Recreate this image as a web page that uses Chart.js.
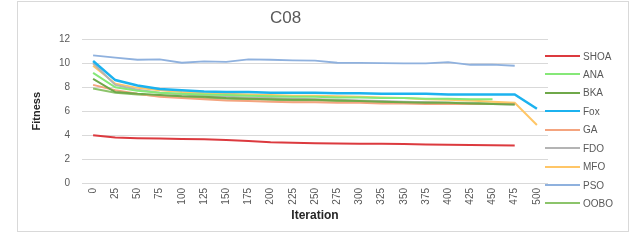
<!DOCTYPE html>
<html>
<head>
<meta charset="utf-8">
<script src="https://cdn.jsdelivr.net/npm/chart.js@4/dist/chart.umd.min.js"></script>
<style>
  body { margin: 0; background: #fff; font-family: "Liberation Sans", Arial, sans-serif; }
  #box { position: absolute; left: 17px; top: 1px; width: 610px; height: 229px; border: 1px solid #d9d9d9; }
  #legend { position: absolute; left: 0; top: 0; }
  .item { position: absolute; height: 12px; font-size: 10px; line-height: 12px; color: #595959; white-space: nowrap; }
  .item span { display: inline-block; width: 35px; height: 2px; vertical-align: middle; margin-right: 3px; position: relative; top: -1px; }
</style>
</head>
<body>
<div id="box"><canvas id="plot" width="610" height="229"></canvas></div>
<div id="legend"></div>
<script>
const iterations = ["0","25","50","75","100","125","150","175","200","225","250","275","300","325","350","375","400","425","450","475","500"];
const seriesNames = ["SHOA","ANA","BKA","Fox","GA","FDO","MFO","PSO","OOBO"];
const seriesColors = ["#dc3a3f","#86e878","#6fa84a","#1cb2ef","#f4a47f","#b4b4b4","#ffc667","#8fb1de","#8cc46b"];
const lineWidths = [2, 2, 2, 2.5, 2, 2, 2, 1.8, 2];

const shoa = [4.0, 3.8, 3.74, 3.72, 3.68, 3.66, 3.6, 3.5, 3.4, 3.37, 3.33, 3.3, 3.28, 3.27, 3.25, 3.22, 3.2, 3.18, 3.15, 3.14];
const ana  = [9.2, 8.0, 7.7, 7.55, 7.45, 7.4, 7.35, 7.3, 7.25, 7.2, 7.2, 7.15, 7.15, 7.1, 7.1, 7.05, 7.05, 7.0, 7.0];
const bka  = [8.7, 7.6, 7.45, 7.35, 7.25, 7.2, 7.1, 7.05, 7.0, 6.95, 6.95, 6.9, 6.85, 6.8, 6.75, 6.7, 6.7, 6.65, 6.6, 6.55];
const fox  = [10.2, 8.6, 8.15, 7.85, 7.75, 7.65, 7.6, 7.6, 7.55, 7.55, 7.55, 7.5, 7.5, 7.45, 7.45, 7.45, 7.4, 7.4, 7.4, 7.4, 6.2];
const ga   = [8.2, 7.75, 7.45, 7.2, 7.1, 7.0, 6.9, 6.85, 6.8, 6.75, 6.75, 6.7, 6.7, 6.65, 6.65, 6.6, 6.6, 6.6, 6.6, 6.6];
const fdo  = [10.0, 8.2, 7.8, 7.55, 7.4, 7.3, 7.2, 7.15, 7.1, 7.05, 7.0, 6.95, 6.9, 6.85, 6.8, 6.75, 6.7, 6.65, 6.6, 6.55];
const mfo  = [9.8, 8.3, 7.95, 7.75, 7.6, 7.5, 7.45, 7.4, 7.35, 7.3, 7.3, 7.25, 7.2, 7.15, 7.1, 7.0, 6.95, 6.9, 6.8, 6.7, 4.85];
const pso  = [10.67, 10.47, 10.3, 10.33, 10.05, 10.17, 10.12, 10.33, 10.3, 10.25, 10.22, 10.05, 10.03, 10.02, 10.0, 10.0, 10.1, 9.88, 9.9, 9.8];
const oobo = [7.9, 7.55, 7.4, 7.3, 7.2, 7.1, 7.05, 7.0, 6.95, 6.9, 6.9, 6.85, 6.85, 6.8, 6.75, 6.75, 6.7, 6.7, 6.65, 6.6];
const yTicks = [0, 2, 4, 6, 8, 10, 12];

const allSeries = [shoa, ana, bka, fox, ga, fdo, mfo, pso, oobo];

const datasets = seriesNames.map((name, i) => ({
  label: name,
  data: allSeries[i],
  borderColor: seriesColors[i],
  backgroundColor: seriesColors[i],
  borderWidth: lineWidths[i],
  pointRadius: 0,
  tension: 0,
  fill: false
}));

const textColor = "#595959";

new Chart(document.getElementById("plot"), {
  type: "line",
  data: { labels: iterations, datasets: datasets },
  options: {
    responsive: false,
    animation: false,
    layout: { padding: { left: 5, right: 80, top: 3, bottom: 2 } },
    plugins: {
      legend: { display: false },
      tooltip: { enabled: false },
      title: {
        display: true,
        text: "C08",
        color: textColor,
        font: { family: "Liberation Sans", size: 17, weight: "normal" },
        padding: { top: 3, bottom: 11 }
      }
    },
    scales: {
      x: {
        offset: true,
        afterFit: axis => { axis.height = 46; },
        grid: { display: false, drawTicks: false },
        border: { display: false },
        ticks: {
          color: textColor,
          font: { family: "Liberation Sans", size: 10 },
          maxRotation: 90,
          minRotation: 90,
          padding: 5,
          autoSkip: false
        },
        title: {
          display: true,
          text: "Iteration",
          color: "#262626",
          font: { family: "Liberation Sans", size: 12, weight: "bold" },
          padding: { top: 0, bottom: 6 }
        }
      },
      y: {
        min: 0,
        max: 12,
        afterBuildTicks: axis => { axis.ticks = yTicks.map(v => ({ value: v })); },
        afterFit: axis => { axis.width = 59; },
        grid: { color: "#d9d9d9", drawTicks: false },
        border: { display: false },
        ticks: {
          color: textColor,
          font: { family: "Liberation Sans", size: 10 },
          padding: 12
        },
        title: {
          display: true,
          text: "Fitness",
          color: "#262626",
          font: { family: "Liberation Sans", size: 11, weight: "bold" },
          padding: { top: 7, bottom: 4 }
        }
      }
    }
  }
});

// legend on the right, same order as the datasets
const legend = document.getElementById("legend");
seriesNames.forEach((name, i) => {
  const el = document.createElement("div");
  el.className = "item";
  el.style.left = "545px";
  el.style.top = (50.5 + i * 18.45) + "px";
  el.innerHTML = '<span style="background:' + seriesColors[i] + '"></span>' + name;
  legend.appendChild(el);
});
</script>
</body>
</html>
